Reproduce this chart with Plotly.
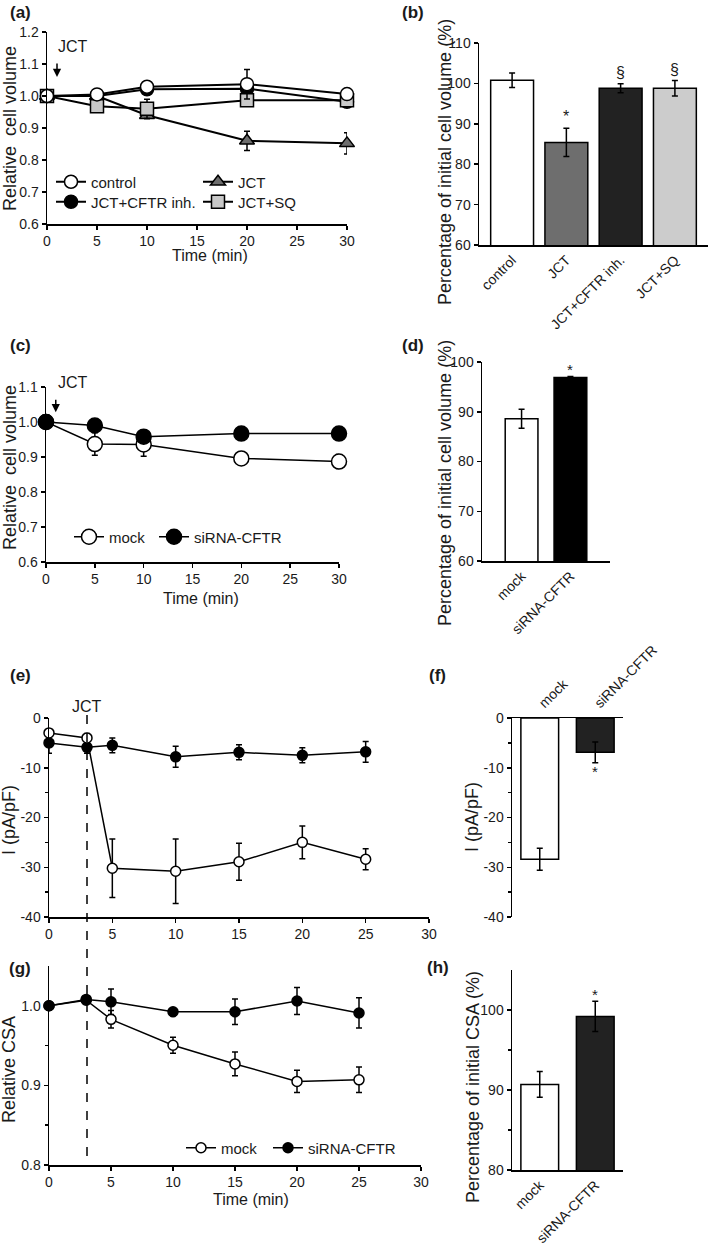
import plotly.graph_objects as go

W, H = 709, 1245
def px(x): return x / W
def py(y): return 1 - y / H

FONT = "Liberation Sans, Arial, sans-serif"
TXT = "#1a1a1a"

# ---------------- data ----------------
# (a) relative cell volume
a_time = [0, 5, 10, 20, 30]
a_control = [1.0, 1.005, 1.029, 1.037, 1.006]
a_control_err = [0.0, 0.004, 0.005, 0.046, 0.006]
a_jct = [1.0, 1.0, 0.94, 0.86, 0.852]
a_jct_err = [0.0, 0.0, 0.01, 0.03, 0.033]
a_cftr = [1.0, 1.0, 1.021, 1.023, 0.982]
a_cftr_err = [0.0, 0.0, 0.005, 0.005, 0.005]
a_sq = [1.0, 0.968, 0.96, 0.987, 0.987]
a_sq_err = [0.0, 0.005, 0.03, 0.005, 0.005]

# (b) percentage of initial cell volume
b_cats = ["control", "JCT", "JCT+CFTR inh.", "JCT+SQ"]
b_vals = [100.8, 85.4, 98.8, 98.8]
b_err = [1.8, 3.5, 1.1, 1.9]
b_colors = ["#ffffff", "#6e6e6e", "#222222", "#cccccc"]
b_marks = ["", "*", "§", "§"]

# (c) relative cell volume, mock vs siRNA
c_time = [0, 5, 10, 20, 30]
c_mock = [1.0, 0.937, 0.936, 0.896, 0.887]
c_mock_err = [0.0, 0.032, 0.034, 0.005, 0.02]
c_si = [1.0, 0.99, 0.958, 0.967, 0.967]
c_si_err = [0.0, 0.005, 0.005, 0.005, 0.005]

# (d)
d_cats = ["mock", "siRNA-CFTR"]
d_vals = [88.6, 96.9]
d_err = [1.9, 0.2]
d_colors = ["#ffffff", "#000000"]

# (e) current density
e_time = [0, 3, 5, 10, 15, 20, 25]
e_mock = [-3.0, -4.0, -30.2, -30.8, -28.9, -25.0, -28.4]
e_mock_err = [0.5, 0.9, 5.9, 6.5, 3.7, 3.3, 2.1]
e_si = [-5.0, -5.9, -5.5, -7.8, -6.9, -7.5, -6.8]
e_si_err = [2.1, 1.2, 1.5, 2.1, 1.5, 1.5, 2.1]

# (f)
f_cats = ["mock", "siRNA-CFTR"]
f_vals = [-28.4, -6.9]
f_err = [2.2, 2.1]
f_colors = ["#ffffff", "#222222"]

# (g) relative CSA
g_time = [0, 3, 5, 10, 15, 20, 25]
g_mock = [1.0, 1.007, 0.983, 0.9505, 0.927, 0.905, 0.907]
g_mock_err = [0.0, 0.003, 0.011, 0.01, 0.015, 0.014, 0.016]
g_si = [1.0, 1.008, 1.005, 0.9925, 0.9925, 1.006, 0.991]
g_si_err = [0.0, 0.003, 0.016, 0.005, 0.016, 0.017, 0.019]

# (h)
h_cats = ["mock", "siRNA-CFTR"]
h_vals = [90.7, 99.2]
h_err = [1.6, 1.9]
h_colors = ["#ffffff", "#222222"]

e_ticks = [0, -10, -20, -30, -40]
e_ticktext = ["0", "-10", "-20", "-30", "-40"]

# ---------------- figure ----------------
fig = go.Figure()

def sc(x, y, err, name, symbol, fill, size, xa, ya, legend, lw=2.0, showlegend=True):
    return go.Scatter(
        x=x, y=y, name=name, mode="lines+markers", xaxis=xa, yaxis=ya, legend=legend,
        line=dict(color="black", width=lw),
        marker=dict(symbol=symbol, size=size, color=fill, line=dict(color="black", width=1.5)),
        error_y=dict(type="data", array=err, visible=True, color="black", thickness=1.5, width=3),
        cliponaxis=False, showlegend=showlegend)

# (a)
fig.add_trace(sc(a_time, a_jct, a_jct_err, "JCT", "triangle-up", "#6e6e6e", 13, "x", "y", "legend2"))
fig.add_trace(sc(a_time, a_cftr, a_cftr_err, "JCT+CFTR inh.", "circle", "#000000", 13, "x", "y", "legend3"))
fig.add_trace(sc(a_time, a_sq, a_sq_err, "JCT+SQ", "square", "#c8c8c8", 13, "x", "y", "legend4"))
fig.add_trace(sc(a_time, a_control, a_control_err, "control", "circle", "#ffffff", 13, "x", "y", "legend"))

# (b)
fig.add_trace(go.Bar(x=b_cats, y=b_vals, xaxis="x2", yaxis="y2", width=0.79,
                     marker=dict(color=b_colors, line=dict(color="black", width=1.5)),
                     error_y=dict(type="data", array=b_err, color="black", thickness=1.5, width=3),
                     showlegend=False))

# (c)
fig.add_trace(sc(c_time, c_mock, c_mock_err, "mock", "circle", "#ffffff", 15, "x3", "y3", "legend5", lw=1.5))
fig.add_trace(sc(c_time, c_si, c_si_err, "siRNA-CFTR", "circle", "#000000", 15, "x3", "y3", "legend6", lw=1.5))

# (d)
fig.add_trace(go.Bar(x=d_cats, y=d_vals, xaxis="x4", yaxis="y4", width=0.67,
                     marker=dict(color=d_colors, line=dict(color="black", width=1.5)),
                     error_y=dict(type="data", array=d_err, color="black", thickness=1.5, width=3),
                     showlegend=False))

# (e)
fig.add_trace(sc(e_time, e_si, e_si_err, "siRNA-CFTR", "circle", "#000000", 10, "x5", "y5", "legend", lw=1.5, showlegend=False))
fig.add_trace(sc(e_time, e_mock, e_mock_err, "mock", "circle", "#ffffff", 10, "x5", "y5", "legend", lw=1.5, showlegend=False))

# (f)
fig.add_trace(go.Bar(x=f_cats, y=f_vals, xaxis="x6", yaxis="y6", width=0.68,
                     marker=dict(color=f_colors, line=dict(color="black", width=1.5)),
                     error_y=dict(type="data", array=f_err, color="black", thickness=1.5, width=3),
                     showlegend=False))

# (g)
fig.add_trace(sc(g_time, g_mock, g_mock_err, "mock", "circle", "#ffffff", 10, "x7", "y7", "legend7", lw=1.5))
fig.add_trace(sc(g_time, g_si, g_si_err, "siRNA-CFTR", "circle", "#000000", 10, "x7", "y7", "legend8", lw=1.5))

# (h)
fig.add_trace(go.Bar(x=h_cats, y=h_vals, xaxis="x8", yaxis="y8", width=0.68,
                     marker=dict(color=h_colors, line=dict(color="black", width=1.5)),
                     error_y=dict(type="data", array=h_err, color="black", thickness=1.5, width=3),
                     showlegend=False))

# ---------------- axes ----------------
TF = dict(family=FONT, size=14, color=TXT)

def ax(**kw):
    base = dict(showline=True, linecolor="black", linewidth=1.5, ticks="outside", ticklen=4,
                tickwidth=1.5, tickcolor="black", showgrid=False, zeroline=False,
                tickfont=TF, fixedrange=True, automargin=False)
    base.update(kw)
    return base

def minor(**kw):
    d = dict(ticks="outside", ticklen=3, tickwidth=1.5, tickcolor="black", showgrid=False)
    d.update(kw)
    return d

layout = dict(
    xaxis=ax(domain=[px(47), px(347)], anchor="y", range=[0, 30], dtick=5),
    yaxis=ax(domain=[py(224), py(32)], anchor="x", range=[0.6, 1.2], dtick=0.1, tickformat=".1f"),
    xaxis2=ax(domain=[px(479), px(708)], anchor="y2", type="category", range=[-0.61, 3.61],
              ticks="", tickangle=-45),
    yaxis2=ax(domain=[py(245), py(43)], anchor="x2", range=[60, 110], dtick=10),
    xaxis3=ax(domain=[px(46), px(339)], anchor="y3", range=[0, 30], dtick=5),
    yaxis3=ax(domain=[py(562), py(387)], anchor="x3", range=[0.6, 1.1], dtick=0.1, tickformat=".1f"),
    xaxis4=ax(domain=[px(482), px(610)], anchor="y4", type="category", range=[-0.81, 1.81],
              ticks="", tickangle=-45),
    yaxis4=ax(domain=[py(561), py(362)], anchor="x4", range=[60, 100], dtick=10),
    xaxis5=ax(domain=[px(49), px(429)], anchor="y5", range=[0, 30], dtick=5),
    yaxis5=ax(domain=[py(917), py(718)], anchor="x5", range=[-40, 0], tickvals=e_ticks,
              ticktext=e_ticktext, minor=minor(dtick=5)),
    xaxis6=ax(domain=[px(512), px(623)], anchor="y6", type="category", range=[-0.5, 1.5],
              ticks="", tickangle=-45, side="top"),
    yaxis6=ax(domain=[py(917), py(718)], anchor="x6", range=[-40, 0], tickvals=e_ticks,
              ticktext=e_ticktext, minor=minor(dtick=5)),
    xaxis7=ax(domain=[px(49), px(421)], anchor="y7", range=[0, 30], dtick=5),
    yaxis7=ax(domain=[py(1165), py(966)], anchor="x7", range=[0.8, 1.05], tickvals=[0.8, 0.9, 1.0],
              ticktext=["0.8", "0.9", "1.0"], minor=minor(tickvals=[0.85, 0.95])),
    xaxis8=ax(domain=[px(512), px(623)], anchor="y8", type="category", range=[-0.5, 1.5],
              ticks="", tickangle=-45),
    yaxis8=ax(domain=[py(1170), py(970)], anchor="x8", range=[80, 105], tickvals=[80, 90, 100],
              minor=minor(tickvals=[85, 95])),
)

LEG = dict(orientation="h", xanchor="left", yanchor="middle", bgcolor="rgba(0,0,0,0)",
           font=dict(family=FONT, size=15, color=TXT), itemclick=False, itemdoubleclick=False,
           borderwidth=0)
# one legend per entry so each entry sits where the reference has it
leg_pos = {"legend": (51, 182), "legend2": (198, 182), "legend3": (51, 202), "legend4": (198, 202),
           "legend5": (69, 537), "legend6": (154, 537), "legend7": (181, 1148), "legend8": (268, 1148)}
for k, (lx, ly) in leg_pos.items():
    layout[k] = dict(LEG, x=px(lx), y=py(ly))

fig.update_layout(**layout)

# ---------------- annotations & shapes ----------------
ann = []
def text(t, x, y, size, angle=0, bold=False):
    ann.append(dict(text=("<b>%s</b>" % t) if bold else t, xref="paper", yref="paper",
                    x=px(x), y=py(y), xanchor="center", yanchor="middle", textangle=angle,
                    showarrow=False, font=dict(family=FONT, size=size, color=TXT)))

# panel labels
for lab, xx, yy in [("(a)", 20, 13), ("(b)", 413, 13), ("(c)", 20, 345), ("(d)", 413, 345),
                    ("(e)", 20, 675), ("(f)", 437, 675), ("(g)", 20, 968), ("(h)", 438, 967)]:
    text(lab, xx, yy, 17, bold=True)

# axis titles
text("Time (min)", 210, 255, 16)
text("Time (min)", 201, 598, 16)
text("Time (min)", 251, 1199, 16)
text("Relative\u00a0 cell volume", 10, 129, 18, angle=-90)
text("Relative\u00a0 cell volume", 10, 468, 18, angle=-90)
text("Percentage of initial cell volume (%)", 445, 162, 18, angle=-90)
text("Percentage of initial cell volume (%)", 445, 483, 18, angle=-90)
text("I (pA/pF)", 9, 820, 18, angle=-90)
text("I (pA/pF)", 472, 817, 18, angle=-90)
text("Relative CSA", 9, 1070, 18, angle=-90)
text("Percentage of initial CSA (%)", 473, 1087, 18, angle=-90)

# JCT arrows
ann.append(dict(text="", xref="x", yref="y", x=1, y=1.059, ax=0, ay=-15, showarrow=True,
                arrowhead=2, arrowsize=1.1, arrowwidth=1.5, arrowcolor="black"))
text("JCT", 73, 47, 16)
ann.append(dict(text="", xref="x3", yref="y3", x=1, y=1.028, ax=0, ay=-14, showarrow=True,
                arrowhead=2, arrowsize=1.1, arrowwidth=1.5, arrowcolor="black"))
text("JCT", 73, 382, 16)
ann.append(dict(text="JCT", xref="x5", yref="paper", x=3, y=py(706), showarrow=False,
                yanchor="middle", font=dict(family=FONT, size=16, color=TXT)))

# significance marks
for c, v, e, m in zip(b_cats, b_vals, b_err, b_marks):
    if m:
        ann.append(dict(text=m, xref="x2", yref="y2", x=c, y=v + e, yanchor="bottom", yshift=1,
                        showarrow=False, font=dict(family=FONT, size=16, color=TXT)))
ann.append(dict(text="*", xref="x4", yref="y4", x=d_cats[1], y=d_vals[1] + d_err[1], yanchor="bottom",
                yshift=-4, showarrow=False, font=dict(family=FONT, size=15, color=TXT)))
ann.append(dict(text="*", xref="x6", yref="y6", x=f_cats[1], y=f_vals[1] - f_err[1], yanchor="top",
                yshift=2, showarrow=False, font=dict(family=FONT, size=15, color=TXT)))
ann.append(dict(text="*", xref="x8", yref="y8", x=h_cats[1], y=h_vals[1] + h_err[1], yanchor="bottom",
                yshift=-4, showarrow=False, font=dict(family=FONT, size=15, color=TXT)))

shapes = [dict(type="line", xref="x5", yref="paper", x0=3, x1=3, y0=py(715), y1=py(1166),
               line=dict(color="black", width=1.5, dash="dash"))]

fig.update_layout(width=W, height=H, margin=dict(l=0, r=0, t=0, b=0), autosize=False,
                  paper_bgcolor="white", plot_bgcolor="white", annotations=ann, shapes=shapes,
                  font=dict(family=FONT, color=TXT), bargap=0)

# remove the browser's default 8px body margin so the figure starts at the window corner
fig.write_html("out.html", config={"displayModeBar": False, "staticPlot": True},
               post_script="document.body.style.margin='0px';document.body.style.padding='0px';")
